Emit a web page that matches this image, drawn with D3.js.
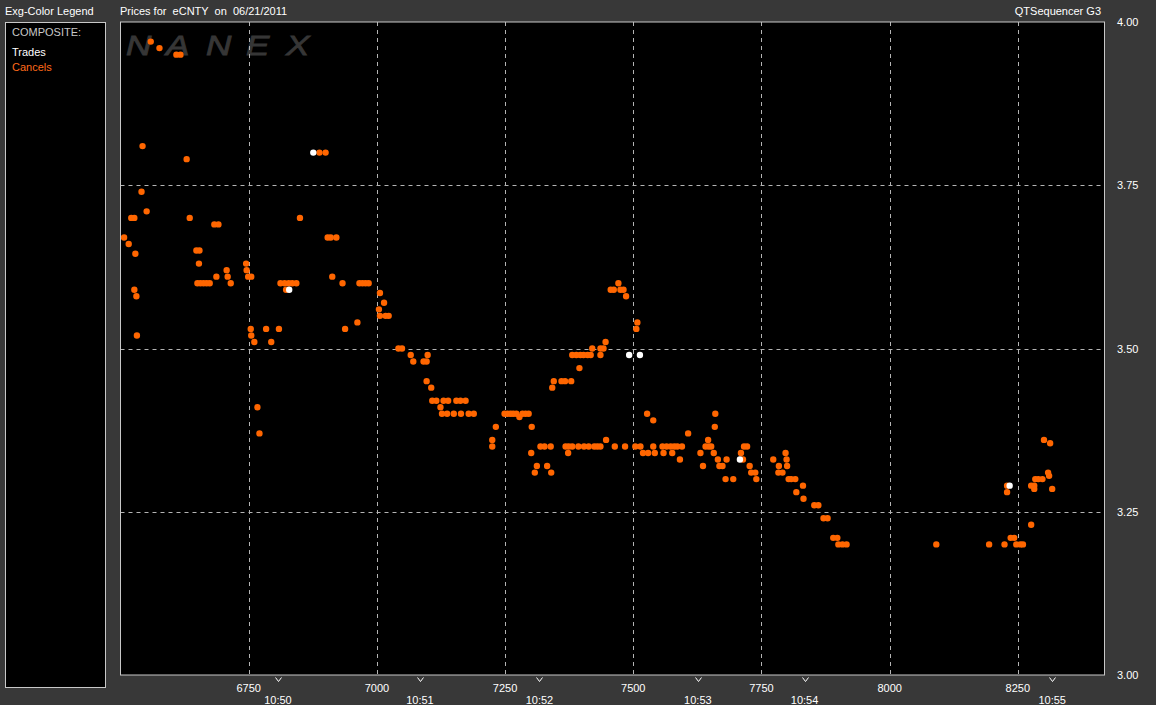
<!DOCTYPE html>
<html><head><meta charset="utf-8">
<script src="https://cdn.jsdelivr.net/npm/d3@7"></script>
<style>
html,body{margin:0;padding:0;background:#383838;}
svg text{font-family:"Liberation Sans",Arial,sans-serif;}
</style></head>
<body>
<svg id="c" width="1156" height="705"></svg>
<script>
// ---- data ----
const cancelSeq = [6507,6516,6521,6527,6527,6529,6531,6532,6541,6543,6551,6559,6576,6609,6617,6629,6635,6648,6654,6653,6650,6656,6662,6668,6674,6683,6691,6687,6707,6709,6715,6745,6746,6749,6755,6754,6755,6761,6767,6771,6784,6794,6809,6812,6820,6823,6828,6835,6843,6850,6888,6900,6904,6910,6921,6913,6933,6938,6962,6966,6972,6978,6984,7006,7014,7004,7006,7017,7023,7042,7049,7066,7071,7091,7097,7099,7097,7106,7108,7116,7124,7130,7139,7155,7163,7173,7127,7137,7150,7164,7179,7189,7225,7225,7232,7249,7255,7261,7266,7272,7278,7284,7290,7296,7302,7301,7312,7308,7332,7340,7319,7327,7339,7345,7342,7360,7367,7379,7368,7374,7381,7373,7381,7389,7397,7403,7411,7417,7395,7393,7404,7413,7420,7424,7430,7436,7436,7442,7436,7446,7447,7456,7462,7471,7475,7481,7486,7464,7484,7504,7514,7508,7506,7519,7529,7542,7539,7527,7539,7557,7565,7573,7580,7586,7559,7576,7595,7591,7607,7631,7636,7641,7647,7652,7646,7660,7659,7657,7665,7682,7668,7674,7680,7695,7714,7710,7716,7722,7727,7730,7738,7740,7773,7784,7783,7791,7797,7799,7800,7803,7808,7816,7831,7818,7832,7853,7861,7871,7879,7890,7898,7900,7908,7916,8091,8194,8224,8229,8229,8236,8243,8247,8255,8260,8276,8276,8282,8282,8284,8290,8298,8301,8313,8309,8311,8317];
const cancelPrice = [3.67,3.66,3.70,3.70,3.59,3.645,3.58,3.52,3.74,3.81,3.71,3.97,3.96,3.95,3.95,3.79,3.70,3.65,3.65,3.63,3.60,3.60,3.60,3.60,3.60,3.69,3.69,3.61,3.62,3.61,3.60,3.63,3.62,3.61,3.61,3.53,3.52,3.51,3.41,3.37,3.53,3.51,3.53,3.60,3.60,3.59,3.60,3.60,3.60,3.70,3.80,3.80,3.67,3.67,3.67,3.61,3.60,3.53,3.54,3.60,3.60,3.60,3.60,3.585,3.57,3.56,3.55,3.55,3.55,3.50,3.50,3.49,3.48,3.48,3.48,3.49,3.45,3.44,3.42,3.42,3.41,3.42,3.42,3.42,3.42,3.42,3.40,3.40,3.40,3.40,3.40,3.40,3.36,3.35,3.38,3.40,3.40,3.40,3.40,3.40,3.395,3.40,3.40,3.40,3.38,3.34,3.32,3.31,3.32,3.31,3.35,3.35,3.35,3.45,3.44,3.45,3.45,3.45,3.35,3.35,3.35,3.34,3.49,3.49,3.49,3.49,3.49,3.49,3.47,3.35,3.35,3.35,3.50,3.35,3.35,3.35,3.50,3.50,3.49,3.51,3.36,3.59,3.59,3.60,3.59,3.59,3.58,3.35,3.35,3.35,3.35,3.54,3.53,3.34,3.34,3.34,3.35,3.40,3.39,3.35,3.35,3.35,3.35,3.35,3.34,3.34,3.35,3.33,3.37,3.34,3.32,3.35,3.35,3.35,3.36,3.40,3.38,3.34,3.33,3.33,3.32,3.32,3.30,3.30,3.33,3.34,3.35,3.35,3.32,3.31,3.31,3.30,3.33,3.32,3.31,3.31,3.34,3.33,3.32,3.30,3.30,3.30,3.29,3.28,3.27,3.26,3.26,3.24,3.24,3.21,3.21,3.20,3.20,3.20,3.20,3.20,3.20,3.29,3.28,3.21,3.21,3.20,3.20,3.20,3.23,3.29,3.29,3.285,3.30,3.30,3.30,3.36,3.355,3.31,3.305,3.285];
const tradeSeq = [6876,6829,7492,7513,7708,8234];
const tradePrice = [3.80,3.59,3.49,3.49,3.33,3.29];
const xTicks = [6750,7000,7250,7500,7750,8000,8250];
const yTicks = [3.00,3.25,3.50,3.75,4.00];
const timeSeq = [6807,7084,7317,7626,7834,8317];
const timeLabels = ["10:50","10:51","10:52","10:53","10:54","10:55"];
const watermark = ["N","A","N","E","X"];

// ---- layout ----
const svg = d3.select("#c");
const L = 120.5, R = 1104.5, T = 22, B = 675;
const x = d3.scaleLinear().domain([6500, 8419]).range([L, R]);
const y = d3.scaleLinear().domain([3.0, 4.0]).range([B, T]);

// header texts
svg.append("text").attr("x",5).attr("y",15).attr("fill","#fff").attr("font-size",11).text("Exg-Color Legend");
svg.append("text").attr("x",120).attr("y",15).attr("fill","#fff").attr("font-size",11)
  .style("white-space","pre").text("Prices for  eCNTY  on  06/21/2011");
svg.append("text").attr("x",1101).attr("y",15).attr("fill","#fff").attr("font-size",11).attr("text-anchor","end").text("QTSequencer G3");

// legend box
svg.append("rect").attr("x",5.5).attr("y",22.5).attr("width",100).attr("height",665).attr("fill","#000").attr("stroke","#c8c8c8");
svg.append("text").attr("x",12).attr("y",36).attr("fill","#c8c8c8").attr("font-size",11).text("COMPOSITE:");
svg.append("text").attr("x",12).attr("y",56).attr("fill","#fff").attr("font-size",11).text("Trades");
svg.append("text").attr("x",12).attr("y",71).attr("fill","#ff6a1a").attr("font-size",11).text("Cancels");

// plot area
svg.append("rect").attr("x",L).attr("y",T).attr("width",R-L).attr("height",B-T).attr("fill","#000");

// watermark (letters spread wide)
svg.append("g").selectAll("text").data(watermark).join("text")
  .attr("transform",(d,i)=>`translate(${126+i*40},55) scale(1.3,1)`)
  .attr("fill","#363636").attr("font-size",27).attr("font-style","italic")
  .attr("stroke","#363636").attr("stroke-width",0.8)
  .attr("font-family","'DejaVu Sans',sans-serif").text(d=>d);

// gridlines
const g = svg.append("g");
g.selectAll("line.gx").data(xTicks).join("line").attr("class","gx")
  .attr("x1",d=>Math.round(x(d))+0.5).attr("x2",d=>Math.round(x(d))+0.5).attr("y1",T).attr("y2",B)
  .attr("stroke","#b4b4b4").attr("stroke-dasharray","4,4");
g.selectAll("line.gy").data(yTicks.filter(d=>d>3&&d<4)).join("line").attr("class","gy")
  .attr("y1",d=>Math.round(y(d))+0.5).attr("y2",d=>Math.round(y(d))+0.5).attr("x1",L).attr("x2",R)
  .attr("stroke","#b4b4b4").attr("stroke-dasharray","4,4");

// border
svg.append("rect").attr("x",L).attr("y",T).attr("width",R-L).attr("height",B-T).attr("fill","none").attr("stroke","#c8c8c8");

// y axis labels
svg.selectAll("text.yl").data(yTicks).join("text").attr("class","yl")
  .attr("x",1117).attr("y",d=>y(d)+4).attr("fill","#fff").attr("font-size",11).text(d=>d.toFixed(2));

// x tick labels
svg.selectAll("text.xl").data(xTicks).join("text").attr("class","xl")
  .attr("x",d=>x(d)).attr("y",692).attr("text-anchor","middle").attr("fill","#fff").attr("font-size",11).text(d=>d);

// time markers
svg.selectAll("path.tm").data(timeSeq).join("path").attr("class","tm")
  .attr("d",d=>{const cx=Math.round(x(d))+0.5;return `M${cx-3},677.5 L${cx},681.5 L${cx+3},677.5`;})
  .attr("stroke","#fff").attr("fill","none").attr("stroke-width",1);
svg.selectAll("text.tl").data(timeSeq).join("text").attr("class","tl")
  .attr("x",d=>x(d)).attr("y",704).attr("text-anchor","middle").attr("fill","#fff").attr("font-size",11)
  .text((d,i)=>timeLabels[i]);

// points
const sym = d3.symbol().type(d3.symbolCircle).size(32);
const cancels = cancelSeq.map((s,i)=>({s,p:cancelPrice[i]}));
const trades = tradeSeq.map((s,i)=>({s,p:tradePrice[i]}));
svg.append("g").selectAll("path").data(cancels).join("path")
  .attr("d",sym).attr("transform",d=>`translate(${x(d.s)},${y(d.p)})`).attr("fill","#ff6600");
svg.append("g").selectAll("path").data(trades).join("path")
  .attr("d",sym).attr("transform",d=>`translate(${x(d.s)},${y(d.p)})`).attr("fill","#ffffff");
</script>
</body></html>
